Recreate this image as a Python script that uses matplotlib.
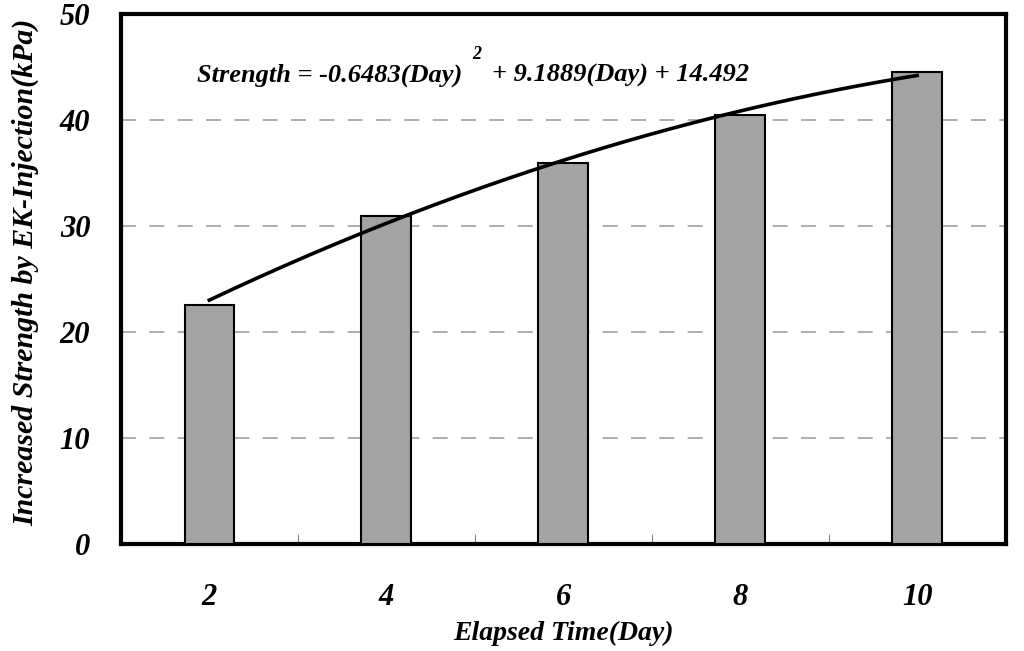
import numpy as np
import matplotlib
matplotlib.use("Agg")
from matplotlib import pyplot as plt
from matplotlib.transforms import IdentityTransform

# data
days = ['2', '4', '6', '8', '10']
strength = [22.6, 31.0, 36.0, 40.5, 44.6]
# trend line given on the chart (Day = category index 1..5)
coef = [-0.6483, 9.1889, 14.492]
y_ticks = [0, 10, 20, 30, 40, 50]

font = {'family': 'Liberation Serif', 'weight': 'bold', 'style': 'italic'}

fig = plt.figure(figsize=(10.24, 6.51), dpi=100)
ax = fig.add_axes([0.118, 0.164, 0.864, 0.814])

x = np.arange(len(days))
ax.bar(x, strength, width=0.28, color='#a3a3a3', edgecolor='black', linewidth=1.5, zorder=3)

# trend curve
xs = np.linspace(0, len(days) - 1, 200)
ax.plot(xs, np.polyval(coef, xs + 1), color='black', lw=2.6, zorder=4)

ax.set_xlim(-0.5, len(days) - 0.5)
ax.set_ylim(0, 50)
ax.set_yticks(y_ticks)
ax.set_xticks(x)
ax.set_xticklabels(days, fontdict=font, fontsize=22)
ax.set_yticklabels([str(v) for v in y_ticks], fontdict=font, fontsize=22)
ax.tick_params(axis='x', length=0, pad=28)
ax.tick_params(axis='y', length=0, pad=22)
ax.set_xticks(x[:-1] + 0.5, minor=True)
ax.tick_params(axis='x', which='minor', direction='in', length=7, width=0.8, color='#888888')

ax.yaxis.grid(True, color='#a0a0a0', linestyle=(0, (9, 8)), linewidth=1.2, zorder=0)
ax.set_axisbelow(True)
for s in ax.spines.values():
    s.set_linewidth(3)

ax.set_xlabel('Elapsed Time(Day)', fontdict=font, fontsize=20, va='top')
ax.xaxis.set_label_coords(0.5, -0.145)
ax.set_ylabel('Increased Strength by EK-Injection(kPa)', fontdict=font, fontsize=21.5,
              va='center', ha='center')
ax.yaxis.set_label_coords(-0.108, 0.514)

# equation text, pieces placed one after another
t1 = ax.text(0.0859, 0.8736, 'Strength = -0.6483(Day)', transform=ax.transAxes,
             fontsize=19, va='baseline', **font)
fig.canvas.draw()
r = fig.canvas.get_renderer()
bb1 = t1.get_window_extent(r)
base = ax.transAxes.transform((0, 0.8736))[1]
t2 = ax.text(bb1.x1 + 10, base + 22, '2', transform=IdentityTransform(),
             fontsize=13, va='baseline', **font)
bb2 = t2.get_window_extent(r)
ax.text(bb2.x1 + 11, base, '+ 9.1889(Day) + 14.492', transform=IdentityTransform(),
        fontsize=19, va='baseline', **font)

fig.savefig('out.png', dpi=100)
